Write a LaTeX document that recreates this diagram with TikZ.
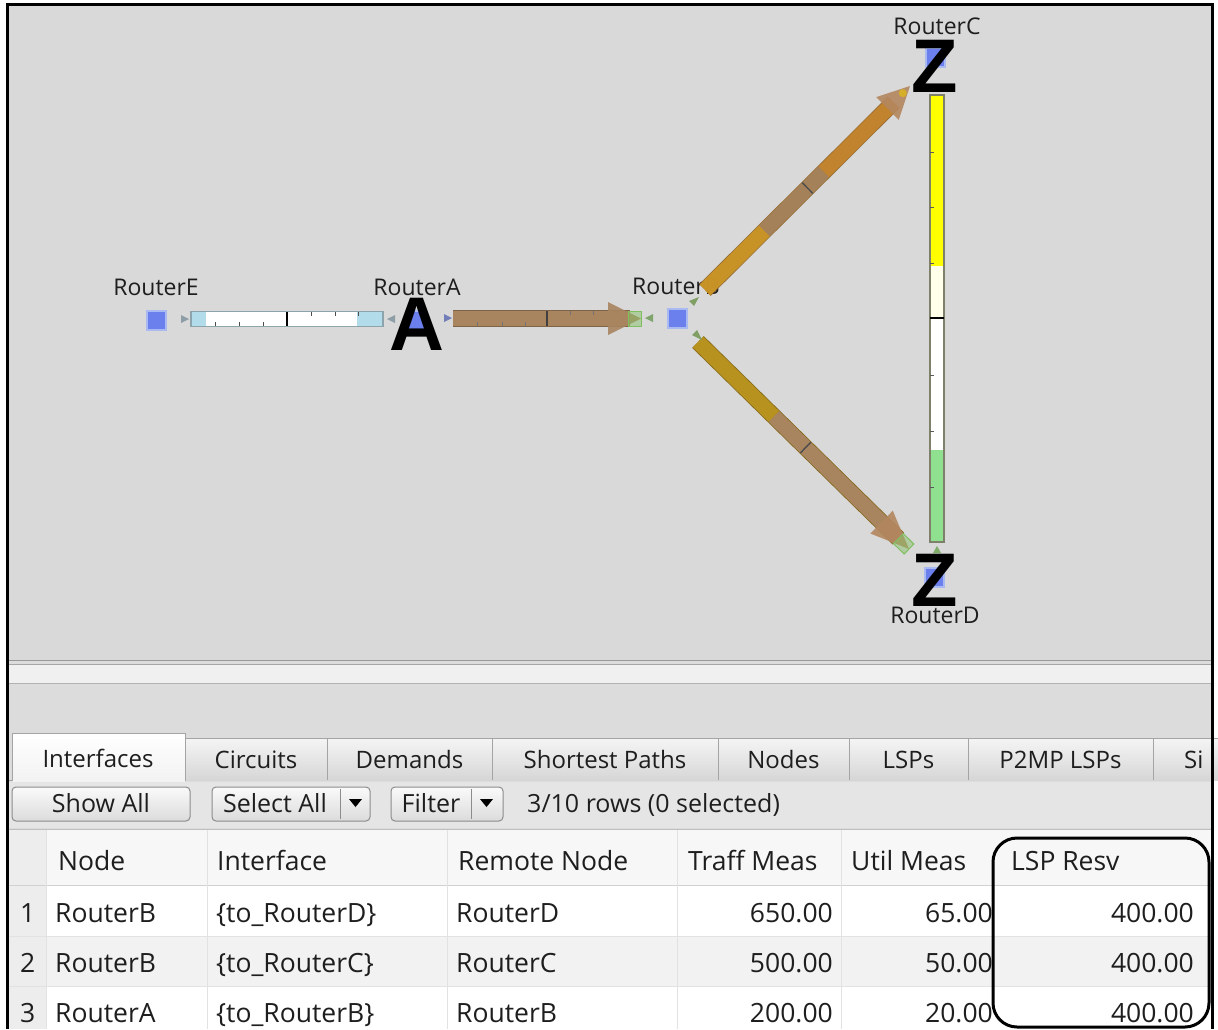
\documentclass[tikz,border=0pt]{standalone}
\usepackage{fontspec}
\setmainfont{Open Sans}
\newfontfamily\bigletter{Liberation Sans}
\usetikzlibrary{calc}
\definecolor{canvasgray}{HTML}{D9D9D9}
\definecolor{panelgray}{HTML}{DCDCDC}
\definecolor{routerblue}{HTML}{6B80EC}
\definecolor{glowblue}{HTML}{A9B9F2}
\definecolor{tanbrown}{HTML}{A8845F}
\definecolor{goldbar}{HTML}{B8921F}
\definecolor{orangebar}{HTML}{C8872C}
\definecolor{headtan}{HTML}{B3875F}
\definecolor{lightbluebar}{HTML}{B2DCEA}
\definecolor{bluegrayline}{HTML}{8DA4AD}
\definecolor{markgray}{HTML}{8E9EA6}
\definecolor{greenmark}{HTML}{7FBF5F}
\definecolor{bargreen}{HTML}{8FE08F}
\definecolor{baryellow}{HTML}{FFFF00}
\definecolor{barcream}{HTML}{FFFFEA}
\definecolor{olivegray}{HTML}{7F806A}
\definecolor{textdark}{HTML}{1E1E1E}
\definecolor{tabborder}{HTML}{A4A4A4}
\definecolor{sepline}{HTML}{E2E2E2}
\tikzset{
  router/.style={rectangle, minimum size=19pt, inner sep=0pt, fill=routerblue, draw=glowblue, line width=2pt},
  rlabel/.style={anchor=base, inner sep=0pt, text=textdark, font=\fontsize{23}{23}\selectfont},
  bigl/.style={anchor=base, inner sep=0pt, text=black, font=\bigletter\bfseries\fontsize{76}{76}\selectfont},
  tabtext/.style={anchor=base, inner sep=0pt, text=textdark, font=\fontsize{24}{24}\selectfont},
  btntext/.style={anchor=base, inner sep=0pt, text=textdark, font=\fontsize{25}{25}\selectfont},
  celltext/.style={anchor=base west, inner sep=0pt, text=textdark, font=\fontsize{26.5}{26.5}\selectfont},
  numtext/.style={anchor=base east, inner sep=0pt, text=textdark, font=\fontsize{26.5}{26.5}\selectfont},
  tabshape/.style={top color=white!96!black, bottom color=white!84!black, draw=tabborder, line width=1pt},
  btnshape/.style={top color=white!98!black, bottom color=white!86!black, draw=white!55!black, line width=1pt, rounded corners=4pt},
  barline/.style={line width=15pt},
  tickmark/.style={line width=1pt, draw=black!70}
}
\begin{document}
\begin{tikzpicture}[x=1pt,y=-1pt]
\useasboundingbox (0,0) rectangle (1218,1029);
\fill[white] (0,0) rectangle (1218,1029);
% ---------------- canvas ----------------
\fill[canvasgray] (8,5) rectangle (1212,660);

% routers
\node[router] (E) at (156,320) {};
\node[router] (A) at (416,320) {};
\node[router] (B) at (677,318) {};
\node[router] (C) at (935,57) {};
\node[router] (D) at (934,577) {};

% labels
\node[rlabel] (Elab) at (156,295) {RouterE};
\node[rlabel] (Alab) at (417,295) {RouterA};
\node[rlabel] (Blab) at (676,294) {RouterB};
\node[rlabel] (Clab) at (937,34) {RouterC};
\node[rlabel] (Dlab) at (935,623) {RouterD};

% ---- link E - A ----
\coordinate (ea1) at (191,319);
\coordinate (ea2) at (383,319);
\draw[barline, lightbluebar] (ea1) -- (ea2);
\draw[barline, white] (206,319) -- (357,319);
\draw[bluegrayline, line width=1.2pt] ($(ea1)+(0,-7.5)$) rectangle ($(ea2)+(0,7.5)$);
\draw[line width=1.6pt, black] (287,312) -- (287,326);
\foreach \t in {215,239,263} \draw[tickmark] (\t,322) -- (\t,326);
\foreach \t in {311,335,358} \draw[tickmark] (\t,312) -- (\t,316);
\fill[markgray] (181,315) -- (189,319) -- (181,323) -- cycle;
\fill[markgray] (395,315) -- (387,319) -- (395,323) -- cycle;

% ---- link A - B ----
\coordinate (ab1) at (453,318.5);
\coordinate (ab2) at (641,318.5);
\draw[line width=16.5pt, tanbrown!75!black] (ab1) -- (630,318.5);
\draw[barline, tanbrown] (ab1) -- (630,318.5);
\draw[line width=1.6pt, black!75] (547,311) -- (547,326);
\foreach \t in {477,502,525} \draw[tickmark, draw=black!55] (\t,322) -- (\t,326);
\foreach \t in {570,593,617} \draw[tickmark, draw=black!55] (\t,311) -- (\t,315);
\fill[tanbrown, opacity=0.9] (608,302) -- (ab2) -- (608,335) -- cycle;
\draw[greenmark, fill=greenmark, fill opacity=0.45, line width=1pt] (628,311) rectangle (641,326);
\fill[markgray!80!blue] (444,314) -- (452,318) -- (444,322) -- cycle;
\fill[greenmark!60!gray] (653,314) -- (645,318) -- (653,322) -- cycle;

% ---- link B - C ----
\coordinate (bc1) at (705,290);
\coordinate (bc2) at (910,86);
\begin{scope}[opacity=0.88]
\draw[line width=16.5pt, orangebar!70!black] (bc1) -- ($(bc1)!0.92!(bc2)$);
\draw[barline, orangebar!85!yellow] (bc1) -- ($(bc1)!0.29!(bc2)$);
\draw[barline, tanbrown] ($(bc1)!0.29!(bc2)$) -- ($(bc1)!0.58!(bc2)$);
\draw[barline, orangebar] ($(bc1)!0.58!(bc2)$) -- ($(bc1)!0.92!(bc2)$);
\end{scope}
\coordinate (bcm) at ($(bc1)!0.5!(bc2)$);
\draw[line width=1.4pt, black!70] ($(bcm)!7.5pt!90:(bc2)$) -- ($(bcm)!7.5pt!-90:(bc2)$);
\coordinate (bch) at ($(bc1)!0.89!(bc2)$);
\fill[headtan, opacity=0.9] (bc2) -- ($(bch)!16pt!90:(bc2)$) -- ($(bch)!16pt!-90:(bc2)$) -- cycle;
\fill[orangebar!60!yellow, opacity=0.8] ($(bc1)!0.965!(bc2)$) circle (4pt);
\fill[greenmark!50!olivegray] (699,297) -- (689,301) -- (694,306) -- cycle;

% ---- link B - D ----
\coordinate (bd1) at (698,342);
\coordinate (bd2) at (909,549);
\draw[line width=16.5pt, goldbar!70!black] (bd1) -- ($(bd1)!0.95!(bd2)$);
\draw[barline, goldbar] (bd1) -- ($(bd1)!0.36!(bd2)$);
\draw[barline, tanbrown] ($(bd1)!0.36!(bd2)$) -- ($(bd1)!0.95!(bd2)$);
\coordinate (bdm) at ($(bd1)!0.51!(bd2)$);
\draw[line width=1.4pt, black!70] ($(bdm)!7.5pt!90:(bd2)$) -- ($(bdm)!7.5pt!-90:(bd2)$);
\coordinate (bdh) at ($(bd1)!0.87!(bd2)$);
\fill[headtan, opacity=0.9] (bd2) -- ($(bdh)!16pt!90:(bd2)$) -- ($(bdh)!16pt!-90:(bd2)$) -- cycle;
\draw[greenmark, line width=1pt, fill=greenmark, fill opacity=0.45]
  ($($(bd1)!0.95!(bd2)$)!7pt!90:(bd2)$) -- ($($(bd1)!0.95!(bd2)$)!7pt!-90:(bd2)$)
  -- ($(bd2)!7pt!90:(bd1)$) -- ($(bd2)!7pt!-90:(bd1)$) -- cycle;
\fill[greenmark!50!olivegray] (702,340) -- (692,335) -- (697,330) -- cycle;

% ---- link C - D (vertical) ----
\coordinate (cd1) at (937,95);
\coordinate (cd2) at (937,542);
\fill[baryellow] (930,95) rectangle (944,266);
\fill[barcream] (930,266) rectangle (944,318);
\fill[white] (930,318) rectangle (944,450);
\fill[bargreen] (930,450) rectangle (944,542);
\draw[olivegray, line width=1.2pt] ($(cd1)+(-7,0)$) rectangle ($(cd2)+(7,0)$);
\draw[line width=1.8pt, black] (930,318) -- (944,318);
\foreach \t in {152,207,263,375,431,487} \draw[tickmark, draw=black!65] (930,\t) -- (934,\t);
\fill[greenmark!70!gray] (933,553) -- (941,553) -- (937,546) -- cycle;

% big letters
\node[bigl] (Aletter) at (417,350) {A};
\node[bigl] (Ztop) at (935,92) {Z};
\node[bigl] (Zbot) at (935,606) {Z};

% ---------------- lower panel ----------------
\fill[panelgray] (8,660) rectangle (1212,1029);
\draw[black!40, line width=1pt] (8,660.5) -- (1212,660.5);
\draw[black!35, line width=1pt] (8,664.5) -- (1212,664.5);
\fill[white!94!black] (9,665) rectangle (1211,683);
\draw[black!30, line width=1pt] (8,683.5) -- (1212,683.5);

% tabs
\draw[tabborder, line width=1pt] (8,780) -- (1212,780);
\foreach \xa/\xb in {185/327, 327/492, 492/718, 718/849, 849/968, 968/1153, 1153/1240}{
  \shade[tabshape] (\xa,780) -- (\xa,738) -- (\xb,738) -- (\xb,780);
}
\node[tabtext] (tabCir) at (256,768) {Circuits};
\node[tabtext] (tabDem) at (409.5,768) {Demands};
\node[tabtext] (tabSP) at (605,768) {Shortest Paths};
\node[tabtext] (tabNod) at (783.5,768) {Nodes};
\node[tabtext] (tabLSP) at (908.5,768) {LSPs};
\node[tabtext] (tabP2) at (1060.5,768) {P2MP LSPs};
\node[tabtext, anchor=base west] (tabSi) at (1184,768) {Si};
\shade[top color=white, bottom color=white!95!black, draw=tabborder, line width=1pt] (12,781) -- (12,733) -- (185,733) -- (185,781);
\node[tabtext] (tabIf) at (98,767) {Interfaces};

% toolbar
\fill[white!90!black] (9,781.5) rectangle (1211,828);
\shade[btnshape] (12,787) rectangle (190,821);
\node[btntext] (showall) at (101,812) {Show All};
\shade[btnshape] (212,787) rectangle (370,821);
\draw[white!55!black] (340,789) -- (340,819);
\node[btntext] (selall) at (275,812) {Select All};
\fill[black] (349,799) -- (362,799) -- (355.5,807) -- cycle;
\shade[btnshape] (391,787) rectangle (503,821);
\draw[white!55!black] (471,789) -- (471,819);
\node[btntext] (filt) at (431,812) {Filter};
\fill[black] (480,799) -- (493,799) -- (486.5,807) -- cycle;
\node[btntext, anchor=base west] (rows) at (527,812) {3/10 rows (0 selected)};

% table
\fill[white] (9,829) rectangle (1211,1029);
\draw[black!25] (8,829) -- (1212,829);
\fill[white!97!black] (9,830) rectangle (1211,885);
\fill[white!93!black] (9,830) rectangle (46,1029);
\fill[white!95!black] (46,937) rectangle (1211,987);
\foreach \y in {885.5,936.5,986.5} \draw[sepline, line width=1pt] (9,\y) -- (1211,\y);
\draw[black!18, line width=1pt] (9,885.5) -- (1211,885.5);
\foreach \x in {46,207,447,677,841} \draw[sepline, line width=1pt] (\x,830) -- (\x,1029);

\node[celltext] (hNode) at (58,870) {Node};
\node[celltext] (hIf) at (217,870) {Interface};
\node[celltext] (hRem) at (458,870) {Remote Node};
\node[celltext] (hTraff) at (688,870) {Traff Meas};
\node[celltext] (hUtil) at (851,870) {Util Meas};
\node[celltext] (hLsp) at (1011,870) {LSP Resv};

\foreach \y/\n/\nd/\intf/\rem/\tr/\ut in {922/1/RouterB/{\{to\_RouterD\}}/RouterD/650.00/65.00, 972/2/RouterB/{\{to\_RouterC\}}/RouterC/500.00/50.00, 1022/3/RouterA/{\{to\_RouterB\}}/RouterB/200.00/20.00}{
  \node[celltext] at (20,\y) {\n};
  \node[celltext] at (55,\y) {\nd};
  \node[celltext] at (216,\y) {\intf};
  \node[celltext] at (456,\y) {\rem};
  \node[numtext] at (833,\y) {\tr};
  \node[numtext] at (993,\y) {\ut};
  \node[numtext] at (1194,\y) {400.00};
}

% highlight box
\draw[black, line width=3pt, rounded corners=24pt] (993,838) rectangle (1209,1027);

% frame
\draw[black, line width=2.5pt] (7.5,1029) -- (7.5,4.5) -- (1212.5,4.5) -- (1212.5,1029);
\end{tikzpicture}
\end{document}
